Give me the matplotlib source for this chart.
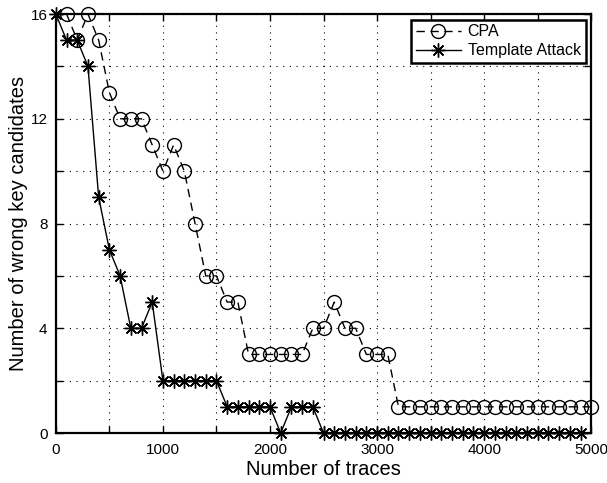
import matplotlib
matplotlib.use("Agg")
import matplotlib.pyplot as plt
from matplotlib.ticker import MultipleLocator, FuncFormatter

plt.rcParams['font.family'] = ['Liberation Sans', 'DejaVu Sans']

# CPA: number of wrong key candidates, every 100 traces from 100 to 5000
cpa_x = list(range(100, 5001, 100))
cpa_y = [16, 15, 16, 15, 13, 12, 12, 12, 11, 10,
         11, 10, 8, 6, 6, 5, 5, 3, 3, 3,
         3, 3, 3, 4, 4, 5, 4, 4, 3, 3,
         3] + [1] * 19

# Template attack, every 100 traces from 0 to 4900
ta_x = list(range(0, 4901, 100))
ta_y = [16, 15, 15, 14, 9, 7, 6, 4, 4, 5,
        2, 2, 2, 2, 2, 2, 1, 1, 1, 1,
        1, 0, 1, 1, 1] + [0] * 25

fig = plt.figure(figsize=(6.07, 4.83), dpi=100)
ax = fig.add_axes([0.092, 0.1035, 0.882, 0.8675])

ax.plot(cpa_x, cpa_y, color='black', lw=1, linestyle=(0, (6, 4)),
        marker='o', markersize=10, markerfacecolor='none',
        markeredgecolor='black', markeredgewidth=1, label='CPA',
        clip_on=False)
ax.plot(ta_x, ta_y, color='black', lw=1, linestyle='-',
        marker=(8, 2, 0), markersize=10, markeredgewidth=1,
        label='Template Attack', clip_on=False)

ax.set_xlim(0, 5000)
ax.set_ylim(0, 16)
ax.xaxis.set_major_locator(MultipleLocator(500))
ax.yaxis.set_major_locator(MultipleLocator(2))
ax.xaxis.set_major_formatter(FuncFormatter(lambda v, p: f"{int(v)}" if v % 1000 == 0 else ""))
ax.yaxis.set_major_formatter(FuncFormatter(lambda v, p: f"{int(v)}" if v % 4 == 0 else ""))
ax.tick_params(direction='in', length=5, width=1, labelsize=11,
               top=True, right=True)
ax.tick_params(axis='x', pad=7)
ax.tick_params(axis='y', pad=6)
ax.grid(True, linestyle=(0, (1, 5)), color='black', lw=0.8)
for s in ax.spines.values():
    s.set_linewidth(1.6)

ax.set_xlabel('Number of traces', fontsize=14.5, labelpad=2)
ax.set_ylabel('Number of wrong key candidates', fontsize=14.5, labelpad=2)

leg = ax.legend(loc='upper right', fontsize=11.5, fancybox=False,
                edgecolor='black', framealpha=1, borderaxespad=0.35,
                handlelength=2.8, handletextpad=0.45, borderpad=0.3,
                labelspacing=0.25)
leg.get_frame().set_linewidth(1.8)

fig.savefig('out.png', dpi=100)
